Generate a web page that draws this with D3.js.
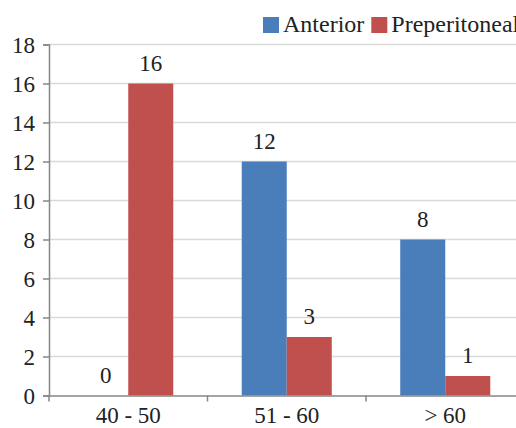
<!DOCTYPE html>
<html>
<head>
<meta charset="utf-8">
<script src="https://cdn.jsdelivr.net/npm/d3@7"></script>
<style>
  html, body { margin: 0; padding: 0; background: #fff; }
  svg { display: block; }
</style>
</head>
<body>
<svg id="chart" width="516" height="428"></svg>
<script>
// Age groups and counts per approach
const categories = ["40 - 50", "51 - 60", "> 60"];
const seriesNames = ["Anterior", "Preperitoneal"];
const anterior = [0, 12, 8];
const preperitoneal = [16, 3, 1];
const yTicks = [0, 2, 4, 6, 8, 10, 12, 14, 16, 18];

const colors = { "Anterior": "#4a7ebb", "Preperitoneal": "#c0504d" };

const FONT = "Liberation Serif";
const fontSize = 23;
const legendFontSize = 24;
const textColor = "#222";

const svg = d3.select("#chart");

const plotLeft = 49, plotRight = 524.5, plotTop = 44.5, plotBottom = 395.5;

const x0 = d3.scaleBand().domain(categories).range([plotLeft, plotRight]).padding(0);
const step = x0.bandwidth();
const x1 = d3.scaleBand().domain(seriesNames)
  .range([step * 0.216, step * 0.784]).padding(0);
const y = d3.scaleLinear().domain([0, 18]).range([plotBottom, plotTop]);

// horizontal gridlines
svg.append("g").selectAll("line").data(yTicks.filter(t => t > 0)).join("line")
  .attr("x1", plotLeft).attr("x2", 516)
  .attr("y1", d => y(d)).attr("y2", d => y(d))
  .attr("stroke", "#d9d9d9").attr("stroke-width", 1.5);

// bars
const rows = categories.map((c, i) => ({ cat: c, values: [
  { name: "Anterior", v: anterior[i] },
  { name: "Preperitoneal", v: preperitoneal[i] }
]}));

const groups = svg.append("g").selectAll("g").data(rows).join("g")
  .attr("transform", d => `translate(${x0(d.cat)},0)`);

groups.selectAll("rect").data(d => d.values).join("rect")
  .attr("x", d => x1(d.name))
  .attr("width", x1.bandwidth())
  .attr("y", d => y(d.v))
  .attr("height", d => y(0) - y(d.v))
  .attr("fill", d => colors[d.name]);

groups.selectAll("text.val").data(d => d.values).join("text")
  .attr("class", "val")
  .attr("x", d => x1(d.name) + x1.bandwidth() / 2)
  .attr("y", d => y(d.v) - 13)
  .attr("text-anchor", "middle")
  .attr("font-family", FONT)
  .attr("font-size", fontSize)
  .attr("fill", textColor)
  .text(d => d.v);

// y axis
const yAxis = d3.axisLeft(y).tickValues(yTicks).tickSize(6).tickPadding(8);
const gy = svg.append("g").attr("transform", `translate(${plotLeft},0)`).call(yAxis)
  .attr("font-family", FONT).attr("font-size", fontSize);
gy.select(".domain").attr("stroke", "#868686").attr("stroke-width", 1.5);
gy.selectAll(".tick line").attr("stroke", "#868686").attr("stroke-width", 1.5);
gy.selectAll(".tick text").attr("font-family", FONT).attr("font-size", fontSize)
  .attr("fill", textColor).attr("dy", "0.35em");

// x axis
const xAxis = d3.axisBottom(x0).tickSize(0).tickPadding(0);
const gx = svg.append("g").attr("transform", `translate(0,${plotBottom})`).call(xAxis)
  .attr("font-family", FONT).attr("font-size", fontSize);
gx.select(".domain").attr("stroke", "#868686").attr("stroke-width", 1.5);
gx.selectAll(".tick text").attr("font-family", FONT).attr("font-size", fontSize)
  .attr("fill", textColor).attr("y", 27).attr("dy", 0);
// category separators
svg.append("g").selectAll("line").data([plotLeft, plotLeft + step, plotLeft + 2 * step]).join("line")
  .attr("x1", d => d).attr("x2", d => d)
  .attr("y1", plotBottom).attr("y2", plotBottom + 6)
  .attr("stroke", "#868686").attr("stroke-width", 1.5);

// legend
const legend = svg.append("g").attr("transform", "translate(263,17)");
let lx = 0;
seriesNames.forEach(name => {
  const item = legend.append("g").attr("transform", `translate(${lx},0)`);
  item.append("rect").attr("width", 16).attr("height", 16).attr("fill", colors[name]);
  const t = item.append("text").attr("x", 20).attr("y", 15)
    .attr("font-family", FONT).attr("font-size", legendFontSize)
    .attr("fill", textColor).text(name);
  lx += 20 + t.node().getComputedTextLength() + 7;
});
</script>
</body>
</html>
